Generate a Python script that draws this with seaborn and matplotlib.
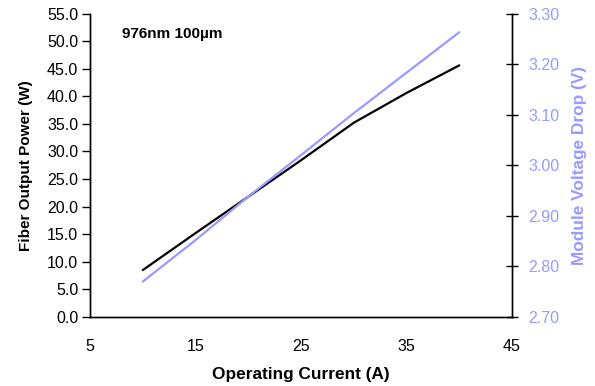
import pandas as pd
import matplotlib
matplotlib.use("Agg")
import matplotlib.pyplot as plt
import seaborn as sns

current = [10, 15, 20, 25, 30, 35, 40]
power = [8.5, 15.2, 21.8, 28.4, 35.2, 40.6, 45.6]
voltage = [2.770, 2.852, 2.938, 3.020, 3.103, 3.183, 3.263]

left_ticks = [0, 5, 10, 15, 20, 25, 30, 35, 40, 45, 50, 55]
right_ticks = [2.70, 2.80, 2.90, 3.00, 3.10, 3.20, 3.30]
x_ticks = [5, 15, 25, 35, 45]

PURPLE = "#9999ff"

sns.set_style("white")
plt.rcParams["font.family"] = ["Liberation Sans", "DejaVu Sans"]
plt.rcParams["text.color"] = "black"
plt.rcParams["axes.labelcolor"] = "black"

df = pd.DataFrame({"current": current, "power": power, "voltage": voltage})

fig = plt.figure(figsize=(5.95, 3.86), dpi=100)
ax = fig.add_axes([0.1513, 0.1788, 0.7092, 0.7862])
ax2 = ax.twinx()

sns.lineplot(data=df, x="current", y="power", color="black", linewidth=1.6, ax=ax)
sns.lineplot(data=df, x="current", y="voltage", color=PURPLE, linewidth=1.6, ax=ax2)

ax.set_xlim(5, 45)
ax.set_ylim(0, 55)
ax2.set_ylim(2.70, 3.30)
ax.set_xticks(x_ticks)
ax.set_xticklabels([str(v) for v in x_ticks])
ax.set_yticks(left_ticks)
ax.set_yticklabels([f"{v:.1f}" for v in left_ticks])
ax2.set_yticks(right_ticks)
ax2.set_yticklabels([f"{v:.2f}" for v in right_ticks])

for a in (ax, ax2):
    a.spines["top"].set_visible(False)
    for s in ("left", "bottom", "right"):
        a.spines[s].set_color("black")
        a.spines[s].set_linewidth(1.0)

ax.tick_params(axis="both", direction="out", length=5.5, width=1, colors="black", labelsize=11.5, pad=3)
ax.tick_params(axis="x", pad=10)
ax2.tick_params(axis="y", direction="inout", length=9, width=1, color="black", labelcolor=PURPLE, labelsize=11.5, pad=7)

ax.set_xlabel("Operating Current (A)", fontsize=12.4, fontweight="bold", labelpad=10, color="black")
ax.set_ylabel("Fiber Output Power (W)", fontsize=11, fontweight="bold", labelpad=10, color="black")
ax2.set_ylabel("Module Voltage Drop (V)", fontsize=12.4, fontweight="bold", color=PURPLE, labelpad=9)

ax.text(8.0, 51.3, "976nm 100µm", fontsize=11, fontweight="bold", va="center", ha="left", color="black")

fig.savefig("out.png", dpi=100)
